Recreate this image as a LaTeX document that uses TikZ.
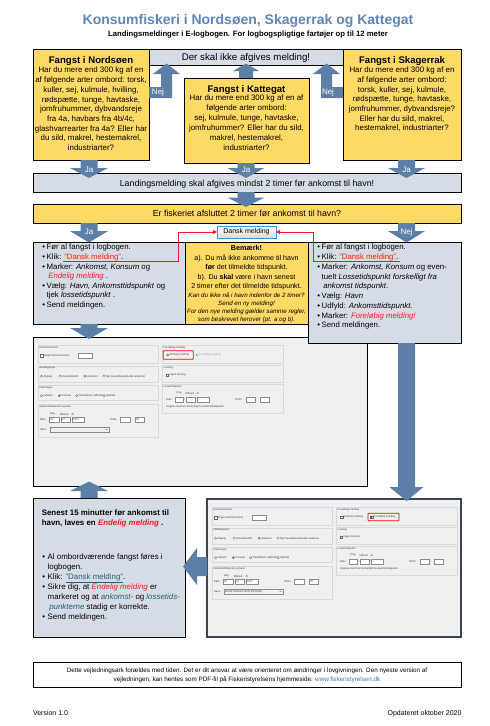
\documentclass[tikz,border=0pt]{standalone}
\usepackage{fontspec}
\setmainfont{Liberation Sans}
\usetikzlibrary{calc,arrows.meta}
\definecolor{titleblue}{RGB}{96,135,180}
\definecolor{boxyellow}{RGB}{255,217,102}
\definecolor{boxgrey}{RGB}{214,220,229}
\definecolor{arrowblue}{RGB}{91,127,166}
\definecolor{redtxt}{RGB}{236,30,40}
\definecolor{tealtxt}{RGB}{31,95,120}
\definecolor{urlblue}{RGB}{68,114,196}
\definecolor{ssbg}{RGB}{240,240,240}
\definecolor{ssborder}{RGB}{58,70,86}
\definecolor{btnblue}{RGB}{60,150,215}
\newcommand\fs[2]{\fontsize{#1}{#2}\selectfont}
\newcommand\bl{\makebox[4.4pt][l]{\textbullet}}
\newcommand\ind{\hspace*{4.4pt}}
\newcommand\blw{\makebox[5.4pt][l]{\textbullet}}
\newcommand\indw{\hspace*{5.4pt}}
\tikzset{
  box/.style={draw=black, line width=0.9pt, inner sep=0, anchor=north west},
  ybox/.style={box, fill=boxyellow},
  gbox/.style={box, fill=boxgrey},
  ssbox/.style={box, fill=ssbg},
  ssboxb/.style={box, draw=ssborder, line width=1.3pt, fill=ssbg},
  blockarrow/.style={fill=arrowblue},
  arrlbl/.style={text=white, font=\fs{8}{9}},
  redline/.style={draw=redtxt, line width=0.8pt, -{Triangle[length=4pt,width=4pt]}},
  btn/.style={draw=btnblue, line width=0.6pt, top color=white, bottom color=black!15, font=\fs{7}{8}, anchor=north west},
  ssgrp/.style={draw=black!15, line width=0.4pt},
  sstxt/.style={anchor=west, font=\fs{2.7}{3}, text=black!75},
  ssctl/.style={draw=black!60, line width=0.3pt, fill=white},
  ssfield/.style={draw=black!45, line width=0.3pt, fill=white},
  sshl/.style={draw=red, line width=0.7pt, rounded corners=0.5pt},
}
\newcommand\vblock[6]{% cx, y start, y head base, y tip, stem half, head half
  \fill[blockarrow] (#1-#5,#2) -- (#1+#5,#2) -- (#1+#5,#3) -- (#1+#6,#3) -- (#1,#4) -- (#1-#6,#3) -- (#1-#5,#3) -- cycle;}
\newcommand\ssradio[3]{\draw[ssctl] (#1,#2) circle (1.2pt); \ifnum#3=1 \fill[black!75] (#1,#2) circle (0.6pt);\fi}
\newcommand\sscheck[3]{\draw[ssctl] (#1-1.3,#2-1.3) rectangle (#1+1.3,#2+1.3); \ifnum#3=1 \fill[black!75] (#1-0.7,#2-0.7) rectangle (#1+0.7,#2+0.7);\fi}
\newcommand\ssform[1]{%
  \draw[ssgrp] (5,8) rectangle (125,26.3);
  \draw[ssgrp] (5,28.7) rectangle (125,44.7);
  \draw[ssgrp] (5,48) rectangle (125,63);
  \draw[ssgrp] (5,67) rectangle (125,99.7);
  \draw[ssgrp] (129,8) rectangle (250,26.3);
  \draw[ssgrp] (129,28.3) rectangle (250,45);
  \draw[ssgrp] (129,46.7) rectangle (250,76.3);
  \node[sstxt] at (6.5,10.8) {Kontrolnummer};
  \sscheck{8.6}{18.7}{0}
  \node[sstxt] at (11,18.7) {Angiv kontrolnummer};
  \draw[ssfield] (44.7,16.3) rectangle (59.3,21.3);
  \node[sstxt] at (6.5,31.2) {Meldingstype};
  \ssradio{8.5}{39.3}{0} \node[sstxt] at (10.5,39.3) {Afgang};
  \ssradio{27}{39.3}{0} \node[sstxt] at (29,39.3) {Farvandsskift};
  \ssradio{52}{39.3}{1} \node[sstxt] at (54,39.3) {Ankomst};
  \ssradio{71}{39.3}{0} \node[sstxt] at (73,39.3) {Nyt lossetidspunkt efter ankomst};
  \node[sstxt] at (6.5,50.5) {Fiskeritype};
  \ssradio{8.5}{58.7}{0} \node[sstxt] at (10.5,58.7) {Industri};
  \ssradio{26.3}{58.7}{1} \node[sstxt] at (28.3,58.7) {Konsum};
  \ssradio{43.7}{58.7}{0} \node[sstxt] at (45.7,58.7) {Tobisfiskeri, blåhvilling};
  \ssradio{71}{58.7}{0} \node[sstxt] at (73,58.7) {Opdræt};
  \node[sstxt] at (6.5,69.5) {Ankomsttidspunkt og havn};
  \node[sstxt] at (17,77.3) {Dag}; \node[sstxt] at (27,77.3) {Måned}; \node[sstxt] at (38.5,77.3) {År};
  \node[sstxt] at (7,82.7) {Dato};
  \draw[ssfield] (16,80) rectangle (26.3,85.3); \node[sstxt] at (17,82.7) {26};
  \node[sstxt] at (26.6,82.7) {/};
  \draw[ssfield] (28,80) rectangle (37,85.3); \node[sstxt] at (29,82.7) {10};
  \node[sstxt] at (37.3,82.7) {/};
  \draw[ssfield] (38.7,80) rectangle (51,85.3); \node[sstxt] at (39.7,82.7) {2020};
  \node[sstxt] at (77,82.7) {Tid kl.};
  \draw[ssfield] (87,80) rectangle (97,85.3);
  \node[sstxt] at (99,82.7) {:};
  \draw[ssfield] (102,80) rectangle (111,85.3); \node[sstxt] at (103,82.7) {30};
  \node[sstxt] at (7,92.5) {Havn};
  \draw[ssfield, fill=black!6] (17,89.7) rectangle (76,95.3);
  \draw[black!60, line width=0.3pt] (72.5,91.9) -- (73.5,93) -- (74.5,91.9);
  \node[sstxt] at (130.5,10.8) {Foreløbig melding};
  \ifnum#1=1
    \ssradio{134.7}{18}{1} \node[sstxt] at (136.8,18) {Endelig melding};
    \ssradio{164.3}{18}{0} \node[sstxt, text=black!35] at (166.4,18) {Foreløbig melding};
    \draw[sshl] (130.3,13.7) rectangle (160.3,22.3);
  \else
    \node[sstxt] at (18,92.5) {HANSTHOLM HAVN (DKHAN)};
    \sscheck{134.5}{18}{0} \node[sstxt] at (136.6,18) {Endelig melding};
    \sscheck{164.5}{18}{1} \node[sstxt] at (166.6,18) {Foreløbig melding};
    \draw[sshl] (161,14.3) rectangle (192,21.7);
  \fi
  \node[sstxt] at (130.5,31) {Losning};
  \sscheck{134.3}{38}{0} \node[sstxt] at (136.5,38) {Ingen losning};
  \node[sstxt] at (130.5,49.5) {Lossetidspunkt};
  \node[sstxt] at (143.7,56.3) {Dag}; \node[sstxt] at (152.7,56.3) {Måned}; \node[sstxt] at (163.7,56.3) {År};
  \node[sstxt] at (133.2,62.2) {Dato};
  \draw[ssfield] (142,59.7) rectangle (150.3,64.7);
  \node[sstxt] at (150.8,62.2) {/};
  \draw[ssfield] (153,59.7) rectangle (162,64.7);
  \node[sstxt] at (162.5,62.2) {/};
  \draw[ssfield] (164.3,59.7) rectangle (176,64.7);
  \node[sstxt] at (202,62.2) {Tid kl.};
  \draw[ssfield] (213,59.7) rectangle (222,64.7);
  \node[sstxt] at (224,62.2) {:};
  \draw[ssfield] (227,59.7) rectangle (236,64.7);
  \node[sstxt] at (133.2,70) {Angives kun hvis forskellig fra ankomsttidspunkt.};
}
\begin{document}
\begin{tikzpicture}[x=1pt,y=-1pt, every node/.style={inner sep=0pt, outer sep=0pt}]
\useasboundingbox (0,0) rectangle (490,726);
\fill[white] (0,0) rectangle (490,726);

% titles
\node[font=\bfseries\fs{14}{16}, text=titleblue, anchor=base] (title) at (248,24) {Konsumfiskeri i Nordsøen, Skagerrak og Kattegat};
\node[font=\bfseries\fs{7.7}{9}, anchor=base] (subtitle) at (248,36) {Landingsmeldinger i E-logbogen. For logbogspligtige fartøjer op til 12 meter};

% boxes
\node[ybox, minimum width=116pt, minimum height=111pt] (nord) at (33,49) {};
\node[gbox, minimum width=194pt, minimum height=16pt] (nomeld) at (149,49) {};
\node[ybox, minimum width=118pt, minimum height=111pt] (skag) at (343,49) {};
\node[ybox, minimum width=125pt, minimum height=85pt] (katt) at (184,78) {};
\node[gbox, minimum width=428pt, minimum height=19pt] (land) at (33,173) {};
\node[ybox, minimum width=428pt, minimum height=19pt] (erfisk) at (33,204) {};
\node[ssbox, minimum width=334pt, minimum height=149pt] (ss1) at (33,337) {};
\node[gbox, minimum width=152pt, minimum height=82pt] (lbul) at (33,242) {};
\node[ybox, minimum width=123pt, minimum height=82pt] (bem) at (185,242) {};
\node[gbox, minimum width=153pt, minimum height=101pt] (rbul) at (308,242) {};
\node[gbox, minimum width=152pt, minimum height=139pt] (sen) at (33,498) {};
\node[ssboxb, minimum width=254pt, minimum height=138pt] (ss2) at (207,499) {};
\node[box, fill=white, minimum width=428pt, minimum height=25pt] (foot) at (33,662) {};

% screenshots
\begin{scope}[shift={(33,337)}]\ssform{1}\end{scope}
\begin{scope}[shift={(207,499)}]\ssform{2}\end{scope}

% block arrows
\fill[blockarrow] (149,87) -- (161,87) -- (161,74) -- (153,74) -- (166.5,63.5) -- (180,74) -- (172,74) -- (172,98) -- (149,98) -- cycle;
\fill[blockarrow] (343,87) -- (332,87) -- (332,74) -- (340,74) -- (326.5,63.5) -- (313,74) -- (321,74) -- (321,98) -- (343,98) -- cycle;
\vblock{246}{78}{71}{63.5}{7}{13}
\vblock{89}{160}{168}{178}{8.5}{19}
\vblock{246}{163}{168}{178}{8.5}{18.5}
\vblock{406.5}{160}{168}{178}{8.5}{18.5}
\vblock{246}{192}{197.5}{207}{8.5}{18.5}
\vblock{89}{223}{231}{242.5}{8.5}{19}
\vblock{406.5}{223}{231}{242.5}{8.5}{18.5}
\vblock{89}{324}{328}{339}{8.5}{19}
\vblock{89}{498}{491}{481.5}{8.5}{19}
\vblock{406.5}{343}{487}{501}{8.5}{17}
\fill[blockarrow] (207,557) -- (197,557) -- (197,548) -- (183,566.5) -- (197,585) -- (197,576) -- (207,576) -- cycle;

\node[arrlbl] (nej1) at (158,92.5) {Nej};
\node[arrlbl] (nej2) at (328,92.5) {Nej};
\node[arrlbl] (ja1) at (89,170) {Ja};
\node[arrlbl] (ja2) at (246,170) {Ja};
\node[arrlbl] (ja3) at (406.5,170) {Ja};
\node[arrlbl] (ja4) at (89,232) {Ja};
\node[arrlbl] (nej3) at (406.5,232) {Nej};

% top texts
\node[font=\bfseries\fs{9.6}{11}, anchor=base] (nordh) at (91,63) {Fangst i Nordsøen};
\node[font=\fs{7.9}{9.7}, align=center, anchor=north] (nordt) at (91,67.2) {Har du mere end 300 kg af en\\af følgende arter ombord: torsk,\\kuller, sej, kulmule, hvilling,\\rødspætte, tunge, havtaske,\\jomfruhummer, dybvandsreje\\fra 4a, havbars fra 4b/4c,\\glashvarrearter fra 4a? Eller har\\du sild, makrel, hestemakrel,\\industriarter?};
\node[font=\fs{9.7}{11}, anchor=base] (nomeldt) at (246,60) {Der skal ikke afgives melding!};
\node[font=\bfseries\fs{9.6}{11}, anchor=base] (katth) at (246.5,92) {Fangst i Kattegat};
\node[font=\fs{7.9}{9.9}, align=center, anchor=north] (kattt) at (246.5,95.2) {Har du mere end 300 kg af en af\\følgende arter ombord:\\sej, kulmule, tunge, havtaske,\\jomfruhummer? Eller har du sild,\\makrel, hestemakrel,\\industriarter?};
\node[font=\bfseries\fs{9.6}{11}, anchor=base] (skagh) at (402,63) {Fangst i Skagerrak};
\node[font=\fs{7.9}{9.7}, align=center, anchor=north] (skagt) at (402,66.9) {Har du mere end 300 kg af en\\af følgende arter ombord:\\torsk, kuller, sej, kulmule,\\rødspætte, tunge, havtaske,\\jomfruhummer, dybvandsreje?\\Eller har du sild, makrel,\\hestemakrel, industriarter?};

\node[font=\fs{8.8}{10}, anchor=base] (landt) at (247,186) {Landingsmelding skal afgives mindst 2 timer før ankomst til havn!};
\node[font=\fs{8.8}{10}, anchor=base] (erfiskt) at (247,216.5) {Er fiskeriet afsluttet 2 timer før ankomst til havn?};

% middle row texts
\node[font=\fs{7.8}{9.6}, align=left, anchor=north west] (lbult) at (42.3,244.3) {\bl Før al fangst i logbogen.\\\bl Klik: \textcolor{redtxt}{"Dansk melding"}.\\\bl Marker: \textit{Ankomst, Konsum} og\\\ind\hspace*{1.6pt}\textcolor{redtxt}{\textit{Endelig melding}} .\\\bl Vælg: \textit{Havn, Ankomsttidspunkt} og\\\ind tjek \textit{lossetidspunkt} .\\\bl Send meldingen.};
\node[font=\bfseries\fs{7.2}{9.5}, anchor=base] (bemh) at (246.5,250) {Bemærk!};
\node[font=\fs{7.1}{9.5}, align=center, anchor=north] (bemt) at (246.5,254.3) {a). Du må ikke ankomme til havn\\\textbf{før} det tilmeldte tidspunkt.\\b). Du \textbf{skal} være i havn senest\\2 timer efter det tilmeldte tidspunkt.};
\node[font=\itshape\fs{6.2}{7.9}, align=center, anchor=north] (bemi) at (246.5,292.6) {Kan du ikke nå i havn indenfor de 2 timer?\\Send en ny melding!\\For den nye melding gælder samme regler,\\som beskrevet herover (pt. a og b).};
\node[font=\fs{7.8}{9.75}, align=left, anchor=north west] (rbult) at (317.3,244.3) {\bl Før al fangst i logbogen.\\\bl Klik: \textcolor{redtxt}{"Dansk melding"}.\\\bl Marker: \textit{Ankomst, Konsum} og even-\\\ind tuelt \textit{Lossetidspunkt forskelligt fra}\\\ind\hspace*{1.6pt}\textit{ankomst tidspunkt}.\\\bl Vælg: \textit{Havn}\\\bl Udfyld: \textit{Ankomsttidspunkt.}\\\bl Marker: \textcolor{redtxt}{\textit{Foreløbig melding!}}\\\bl Send meldingen.};

% Dansk melding button and callouts
\node[btn, minimum width=59pt, minimum height=12pt] (dm) at (217,226) {Dansk melding};
\coordinate (lred) at (63,261);
\coordinate (rred) at (400,261);
\draw[redline] (lred) -- (178,261) -- (178,232) -- (dm.west);
\draw[redline] (rred) -- (313,261) -- (313,232) -- (dm.east);

% Senest box
\node[font=\bfseries\fs{7.9}{10}, align=left, anchor=north west] (sent) at (41.8,509.7) {Senest 15 minutter før ankomst til\\havn, laves en \textcolor{redtxt}{\textit{Endelig melding}} .};
\node[font=\fs{7.9}{10}, align=left, anchor=north west] (senb) at (42.3,553.6) {\blw Al ombordværende fangst føres i\\\indw logbogen.\\\blw Klik: \textcolor{tealtxt}{\underline{"Dansk melding"}}.\\\blw Sikre dig, at \textcolor{redtxt}{\textit{Endelig melding}} er\\\indw markeret og at \textcolor{tealtxt}{\textit{ankomst-}} og \textcolor{tealtxt}{\textit{lossetids-}}\\\indw\hspace*{1.6pt}\textcolor{tealtxt}{\textit{punkterne}} stadig er korrekte.\\\blw Send meldingen.};

% footer
\node[font=\fs{6.3}{9}, align=center, anchor=north] (foott) at (247,667.5) {Dette vejledningsark forældes med tiden. Det er dit ansvar at være orienteret om ændringer i lovgivningen. Den nyeste version af\\vejledningen, kan hentes som PDF-fil på Fiskeristyrelsens hjemmeside: \textcolor{urlblue}{www.fiskeristyrelsen.dk}};
\node[font=\fs{7}{8}, anchor=base west] (ver) at (33,715.5) {Version 1.0};
\node[font=\fs{7}{8}, anchor=base east] (upd) at (461.5,715.5) {Opdateret oktober 2020};
\end{tikzpicture}
\end{document}
